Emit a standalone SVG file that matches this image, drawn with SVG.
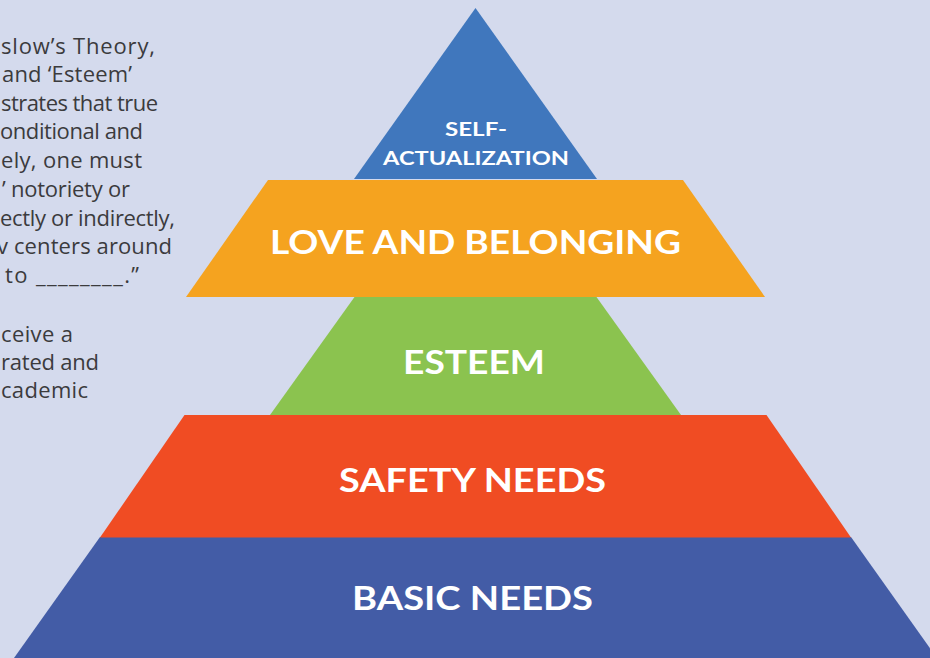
<svg xmlns="http://www.w3.org/2000/svg" width="930" height="658" viewBox="0 0 930 658">
  <style>
    .body { font-family: "Open Sans", "Noto Sans", "Liberation Sans", sans-serif; font-size: 22px; fill: #3b3b3d; }
    .label { font-family: Lato, "Open Sans", "Liberation Sans", sans-serif; font-weight: 700; font-size: 33px; fill: #ffffff; text-anchor: middle; }
    .small { font-size: 19px; }
  </style>
  <rect x="0" y="0" width="930" height="658" fill="#d4daed"/>

  <!-- side paragraph, cut off at the left edge; each line fitted to its column width -->
  <g id="side-text">
    <text class="body" x="1" y="54" textLength="154" lengthAdjust="spacing">slow’s Theory,</text>
    <text class="body" x="2" y="82" textLength="130" lengthAdjust="spacing">and ‘Esteem’</text>
    <text class="body" x="1" y="111" textLength="157" lengthAdjust="spacing">strates that true</text>
    <text class="body" x="0" y="139" textLength="143" lengthAdjust="spacing">onditional and</text>
    <text class="body" x="1" y="168" textLength="141" lengthAdjust="spacing">ely, one must</text>
    <text class="body" x="2" y="197" textLength="128" lengthAdjust="spacing">’ notoriety or</text>
    <text class="body" x="0" y="226" textLength="175" lengthAdjust="spacing">ectly or indirectly,</text>
    <text class="body" x="-3" y="254" textLength="175" lengthAdjust="spacing">v centers around</text>
    <text class="body" x="5" y="283" textLength="134" lengthAdjust="spacing">to ________.”</text>
    <text class="body" x="1" y="342" textLength="72" lengthAdjust="spacing">ceive a</text>
    <text class="body" x="1" y="370" textLength="98" lengthAdjust="spacing">rated and</text>
    <text class="body" x="1" y="398" textLength="87" lengthAdjust="spacing">cademic</text>
  </g>

  <!-- pyramid tiers, top to bottom; labels stretched to the tier's lettering width -->
  <g id="self-actualization">
    <polygon points="475.5,8 597,179 354,179" fill="#4077bd"/>
    <text class="label small" x="476" y="136" textLength="62" lengthAdjust="spacingAndGlyphs">SELF-</text>
    <text class="label small" x="476" y="165" textLength="186" lengthAdjust="spacingAndGlyphs">ACTUALIZATION</text>
  </g>
  <g id="esteem">
    <polygon points="354.5,297 596.5,297 681,415 270,415" fill="#8bc34f"/>
    <text class="label" x="474" y="373.5" textLength="142" lengthAdjust="spacingAndGlyphs">ESTEEM</text>
  </g>
  <g id="love-and-belonging">
    <polygon points="268,180 683,180 765,297 186,297" fill="#f5a31f"/>
    <text class="label" x="475.5" y="254" textLength="411" lengthAdjust="spacingAndGlyphs">LOVE AND BELONGING</text>
  </g>
  <g id="basic-needs">
    <polygon points="100,537 851,537 937,658 14,658" fill="#435ca6"/>
    <text class="label" x="472.5" y="610" textLength="241" lengthAdjust="spacingAndGlyphs">BASIC NEEDS</text>
  </g>
  <g id="safety-needs">
    <polygon points="184.5,415 766.5,415 851,537.5 100,537.5" fill="#f04c23"/>
    <text class="label" x="472.5" y="492" textLength="267" lengthAdjust="spacingAndGlyphs">SAFETY NEEDS</text>
  </g>
</svg>
